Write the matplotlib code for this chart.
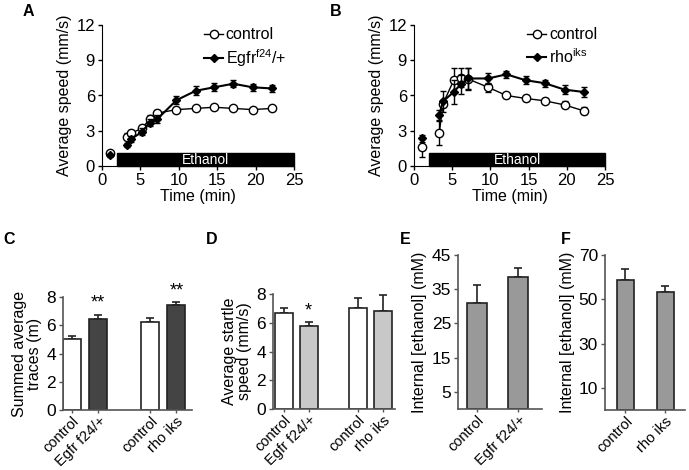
import matplotlib
matplotlib.use("Agg")
import matplotlib.pyplot as plt
from matplotlib.patches import Rectangle
from matplotlib.lines import Line2D
import numpy as np

plt.rcParams['font.family'] = ['Liberation Sans', 'DejaVu Sans']
plt.rcParams['font.size'] = 10

# ---------------- data ----------------
time_a = [1.0, 3.3, 3.8, 5.2, 6.2, 7.2, 9.7, 12.2, 14.6, 17.1, 19.6, 22.1]
ctrl_a = [1.1, 2.5, 2.8, 3.2, 4.0, 4.5, 4.8, 4.9, 5.0, 4.9, 4.8, 4.9]
ctrl_a_err = [0.15, 0.3, 0.3, 0.3, 0.3, 0.3, 0.2, 0.15, 0.15, 0.15, 0.15, 0.15]
egfr_a = [0.9, 1.8, 2.3, 2.9, 3.7, 4.0, 5.6, 6.4, 6.7, 7.0, 6.7, 6.6]
egfr_a_err = [0.1, 0.2, 0.25, 0.3, 0.3, 0.3, 0.35, 0.4, 0.35, 0.3, 0.3, 0.3]

time_b = [1.1, 3.3, 3.8, 5.2, 6.1, 7.1, 9.7, 12.1, 14.6, 17.1, 19.7, 22.2]
ctrl_b = [1.6, 2.8, 5.3, 7.3, 7.5, 7.4, 6.7, 6.0, 5.75, 5.55, 5.2, 4.7]
ctrl_b_err = [0.8, 1.0, 0.3, 1.0, 0.8, 0.9, 0.4, 0.2, 0.25, 0.2, 0.3, 0.3]
rho_b = [2.35, 4.35, 5.5, 6.3, 6.95, 7.45, 7.45, 7.8, 7.3, 7.05, 6.5, 6.3]
rho_b_err = [0.3, 0.4, 0.9, 1.0, 0.8, 0.9, 0.5, 0.3, 0.35, 0.3, 0.4, 0.4]

ethanol_start, ethanol_end = 2.0, 25.0

cats_c = ['control', 'Egfr f24/+', 'control', 'rho iks']
vals_c = [5.05, 6.45, 6.2, 7.45]
errs_c = [0.2, 0.3, 0.3, 0.2]
stars_c = ['', '**', '', '**']

cats_d = ['control', 'Egfr f24/+', 'control', 'rho iks']
vals_d = [6.7, 5.75, 7.05, 6.85]
errs_d = [0.3, 0.3, 0.65, 1.05]
stars_d = ['', '*', '', '']

cats_e = ['control', 'Egfr f24/+']
vals_e = [31.0, 38.5]
errs_e = [5.2, 2.7]

cats_f = ['control', 'rho iks']
vals_f = [58.5, 53.4]
errs_f = [5.0, 2.6]

# ---------------- figure ----------------
W, H = 689, 470
fig = plt.figure(figsize=(W / 100, H / 100), dpi=100)


def px_axes(x0, x1, ytop, ybot):
    return fig.add_axes([x0 / W, 1 - ybot / H, (x1 - x0) / W, (ybot - ytop) / H])


def line_panel(ax, t, c, ce, m, me, mlabel):
    ax.add_patch(Rectangle((ethanol_start, 0), ethanol_end - ethanol_start, 1.1,
                           facecolor='black', edgecolor='black', zorder=1, clip_on=False))
    ax.text((ethanol_start + ethanol_end) / 2, 0.55, 'Ethanol', color='white',
            ha='center', va='center', fontsize=10, zorder=2)
    mk_m = dict(color='black', marker='D', markersize=4.5, capsize=2, elinewidth=1, zorder=4)
    mk_c = dict(color='black', marker='o', markersize=6, markerfacecolor='white',
                capsize=2, elinewidth=1, zorder=3)
    ax.errorbar(t[1:], m[1:], yerr=me[1:], lw=1.5, **mk_m)
    ax.errorbar(t[:1], m[:1], yerr=me[:1], lw=0, **mk_m)
    ax.errorbar(t[1:], c[1:], yerr=ce[1:], lw=1.0, **mk_c)
    ax.errorbar(t[:1], c[:1], yerr=ce[:1], lw=0, **mk_c)
    ax.set_xlim(0, 25)
    ax.set_ylim(0, 12)
    ax.set_xticks([0, 5, 10, 15, 20, 25])
    ax.set_yticks([0, 3, 6, 9, 12])
    ax.tick_params(labelsize=12, length=3, width=1, pad=2)
    ax.spines['top'].set_visible(False)
    ax.spines['right'].set_visible(False)
    ax.set_xlabel('Time (min)', fontsize=11.5, labelpad=1)
    ax.set_ylabel('Average speed (mm/s)', fontsize=11.5, labelpad=3)
    h_c = Line2D([], [], color='black', marker='o', markersize=6, markerfacecolor='white', lw=1.0)
    h_m = Line2D([], [], color='black', marker='D', markersize=4.5, lw=1.5)
    ax.legend([h_c, h_m], ['control', mlabel], loc='upper right', numpoints=1,
              frameon=False, fontsize=11.5, handlelength=1.2, handletextpad=0.15,
              borderaxespad=0.1, labelspacing=0.3, bbox_to_anchor=(1.0, 1.04))


axA = px_axes(102, 294, 25, 166)
line_panel(axA, time_a, ctrl_a, ctrl_a_err, egfr_a, egfr_a_err, 'Egfr$^{\\mathregular{f24}}$/+')
axB = px_axes(414, 605, 25, 166)
line_panel(axB, time_b, ctrl_b, ctrl_b_err, rho_b, rho_b_err, 'rho$^{\\mathregular{iks}}$')

spine_gray = '#555555'


def bar_panel(ax, pos, vals, errs, cats, colors, ylim, yticks, xlim, width, ylabel, stars=None):
    ax.bar(pos, vals, width=width, color=colors, edgecolor='#222222', linewidth=1.2, zorder=2)
    ax.errorbar(pos, vals, yerr=[np.zeros(len(errs)), errs], fmt='none', ecolor='#222222',
                capsize=3, elinewidth=1.2, capthick=1.2, zorder=1)
    ax.set_xlim(*xlim)
    ax.set_ylim(*ylim)
    ax.set_yticks(yticks)
    ax.set_xticks(pos)
    ax.set_xticklabels(cats, rotation=45, ha='right', rotation_mode='anchor', fontsize=10.5)
    ax.tick_params(axis='y', labelsize=12.5, length=3, width=1, color=spine_gray, pad=2)
    ax.tick_params(axis='x', length=2, width=1, color=spine_gray, pad=1)
    for s in ['top', 'right']:
        ax.spines[s].set_visible(False)
    for s in ['left', 'bottom']:
        ax.spines[s].set_color(spine_gray)
        ax.spines[s].set_linewidth(1.2)
    ax.set_ylabel(ylabel, fontsize=11.5, labelpad=3, linespacing=1.0)
    if stars:
        for p, v, e, s in zip(pos, vals, errs, stars):
            if s:
                ax.text(p, v + e + 0.2, s, ha='center', va='bottom', fontsize=13, clip_on=False)


axC = px_axes(63, 192, 297, 410)
bar_panel(axC, [0, 1, 3, 4], vals_c, errs_c, cats_c,
          ['white', '#444444', 'white', '#444444'], (0, 8), [0, 2, 4, 6, 8],
          (-0.35, 4.6), 0.7, 'Summed average\ntraces (m)', stars_c)

axD = px_axes(273, 395, 294, 409)
bar_panel(axD, [0, 1, 3, 4], vals_d, errs_d, cats_d,
          ['white', '#c8c8c8', 'white', '#c8c8c8'], (0, 8), [0, 2, 4, 6, 8],
          (-0.45, 4.5), 0.72, 'Average startle\nspeed (mm/s)', stars_d)

axE = px_axes(458, 542, 255, 409)
bar_panel(axE, [0, 1], vals_e, errs_e, cats_e, ['#999999'] * 2, (0, 45), [5, 15, 25, 35, 45],
          (-0.46, 1.57), 0.48, 'Internal [ethanol] (mM)')

axF = px_axes(605, 685, 255, 410)
bar_panel(axF, [0, 1], vals_f, errs_f, cats_f, ['#999999'] * 2, (0, 70), [10, 30, 50, 70],
          (-0.51, 1.5), 0.43, 'Internal [ethanol] (mM)')

for lab, x, y in [('A', 28, 12), ('B', 336, 12), ('C', 9, 240), ('D', 212, 240),
                  ('E', 405, 239), ('F', 566, 239)]:
    fig.text(x / W, 1 - y / H, lab, fontsize=11.5, fontweight='bold', ha='center', va='center')

fig.savefig('out.png', dpi=100)
